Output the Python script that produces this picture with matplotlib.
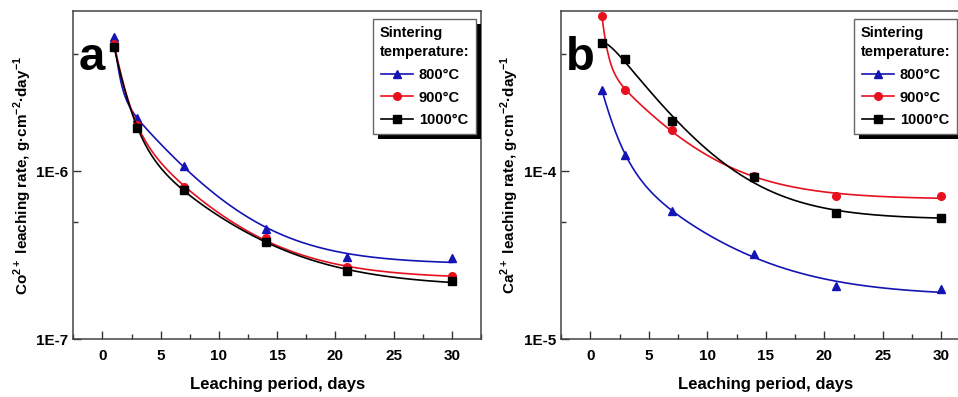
import numpy as np
import matplotlib
matplotlib.use("Agg")
import matplotlib.pyplot as plt
from matplotlib import ticker
from matplotlib.patches import Rectangle

plt.rcParams['font.family'] = ['Liberation Sans', 'DejaVu Sans']
plt.rcParams['font.weight'] = 'bold'
plt.rcParams['mathtext.fontset'] = 'custom'
plt.rcParams['mathtext.rm'] = 'Liberation Sans'
plt.rcParams['mathtext.bf'] = 'Liberation Sans:bold'

days = [1, 3, 7, 14, 21, 30]
labels = ['800°C', '900°C', '1000°C']
colors = ['#1414b4', '#e8101e', 'black']
markers = ['^', 'o', 's']

# Co2+ leaching rate, g/cm2/day
co_800 = [6.3e-6, 2.08e-6, 1.08e-6, 4.5e-7, 3.1e-7, 3.04e-7]
co_900 = [5.75e-6, 1.88e-6, 8.1e-7, 4.0e-7, 2.68e-7, 2.36e-7]
co_1000 = [5.5e-6, 1.82e-6, 7.7e-7, 3.8e-7, 2.53e-7, 2.22e-7]

# Ca2+ leaching rate, g/cm2/day
ca_800 = [3.05e-4, 1.25e-4, 5.8e-5, 3.2e-5, 2.06e-5, 1.99e-5]
ca_900 = [8.4e-4, 3.03e-4, 1.76e-4, 9.4e-5, 7.1e-5, 7.1e-5]
ca_1000 = [5.85e-4, 4.65e-4, 2.0e-4, 9.2e-5, 5.66e-5, 5.28e-5]


def fit_curve(x, y):
    # two-term exponential decay y0 + A1*exp(-x/t1) + A2*exp(-x/t2),
    # grid over t1 < t2, relative least squares for the rest
    x = np.asarray(x, float)
    y = np.asarray(y, float)
    xs = np.linspace(x.min(), x.max(), 300)
    best = None
    for t1 in np.linspace(0.4, 8, 60):
        for t2 in np.linspace(t1 + 0.5, 40, 60):
            M = np.column_stack([np.ones_like(x), np.exp(-x / t1), np.exp(-x / t2)])
            Mw = M / y[:, None]
            coef = np.linalg.lstsq(Mw, np.ones_like(y), rcond=None)[0]
            curve = coef[0] + coef[1] * np.exp(-xs / t1) + coef[2] * np.exp(-xs / t2)
            if curve.min() <= 0 or np.any(np.diff(curve) > 0):
                continue
            err = ((Mw @ coef - 1) ** 2).sum()
            if best is None or err < best[0]:
                best = (err, curve)
    return xs, best[1]


def decade_fmt(v, pos):
    return '1E%d' % int(round(np.log10(v)))


fig = plt.figure(figsize=(9.58, 3.97), dpi=100)
ax_a = fig.add_axes([0.0765, 0.146, 0.4256, 0.826])
ax_b = fig.add_axes([0.5856, 0.146, 0.4275, 0.826])

panels = [
    (ax_a, [co_800, co_900, co_1000], (1e-7, 9e-6), 'Co', 'a', 476),
    (ax_b, [ca_800, ca_900, ca_1000], (1e-5, 9e-4), 'Ca', 'b', 957),
]

for ax, series, ylim, ion, letter, leg_right in panels:
    handles = []
    for vals, c, m, lab in zip(series, colors, markers, labels):
        xs, ys = fit_curve(days, vals)
        ax.plot(xs, ys, color=c, lw=1.2)
        ax.plot(days, vals, ls='none', marker=m, color=c, ms=6 if m == '^' else 5.5)
        h, = ax.plot([], [], color=c, lw=1.2, marker=m, ms=5.5, label=lab)
        handles.append(h)
    ax.set_yscale('log')
    ax.set_xlim(-2.5, 32.5)
    ax.set_ylim(*ylim)
    ax.xaxis.set_major_locator(ticker.MultipleLocator(5))
    ax.xaxis.set_minor_locator(ticker.MultipleLocator(2.5))
    ax.yaxis.set_major_locator(ticker.LogLocator(base=10, subs=[1.0]))
    ax.yaxis.set_minor_locator(ticker.LogLocator(base=10, subs=[5.0]))
    ax.yaxis.set_major_formatter(ticker.FuncFormatter(decade_fmt))
    ax.yaxis.set_minor_formatter(ticker.NullFormatter())
    ax.tick_params(which='both', direction='in', width=1.0, color='#333333',
                   labelsize=11, top=False, right=False)
    ax.tick_params(which='major', length=6)
    ax.tick_params(which='minor', length=3.5)
    ax.tick_params(axis='x', pad=7)
    for s in ax.spines.values():
        s.set_color('#444444')
        s.set_linewidth(1.1)
    for lab in ax.get_xticklabels() + ax.get_yticklabels():
        lab.set_fontweight('bold')
    ax.set_xlabel('Leaching period, days', fontsize=12, fontweight='bold', labelpad=10)
    ax.set_ylabel(ion + r'$^{\mathbf{2+}}$ leaching rate, g·cm$^{\mathbf{-2}}$·day$^{\mathbf{-1}}$',
                  fontsize=11, fontweight='bold', labelpad=2)
    ax.text(0.012, 0.82, letter, transform=ax.transAxes, fontsize=34,
            fontweight='bold', va='baseline')
    leg = ax.legend(handles=handles, title='Sintering\ntemperature:',
                    loc='upper right', bbox_to_anchor=(leg_right / 958, 1 - 19 / 397),
                    bbox_transform=fig.transFigure, borderaxespad=0, fancybox=False,
                    framealpha=1, edgecolor='#666666', fontsize=10.5, title_fontsize=10.5,
                    handlelength=2.2, handletextpad=0.4, borderpad=0.45,
                    labelspacing=0.6, alignment='center')
    leg.get_title().set_fontweight('bold')
    leg.get_title().set_linespacing(1.5)
    leg.get_frame().set_linewidth(1.0)
    for t in leg.get_texts():
        t.set_fontweight('bold')

fig.canvas.draw()
for ax in (ax_a, ax_b):
    leg = ax.get_legend()
    bb = leg.get_window_extent()
    shadow = Rectangle((bb.x0 + 5, bb.y0 - 5), bb.width, bb.height, transform=None,
                       facecolor='black', edgecolor='none', zorder=4)
    ax.add_artist(shadow)
    leg.set_zorder(5)

fig.savefig('out.png', dpi=100)
